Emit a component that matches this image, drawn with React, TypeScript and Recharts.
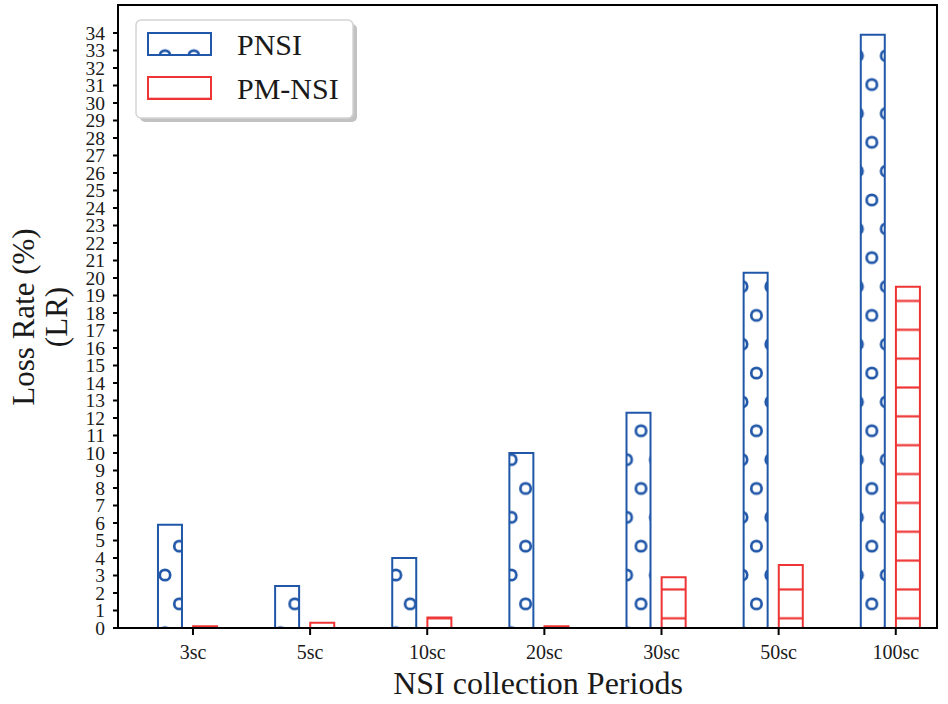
import React from "react";
import {
  ComposedChart,
  Bar,
  XAxis,
  YAxis,
  Legend,
  ReferenceArea,
} from "recharts";

const CATEGORIES = ["3sc", "5sc", "10sc", "20sc", "30sc", "50sc", "100sc"];
const PNSI = [5.9, 2.4, 4.0, 10.0, 12.3, 20.3, 33.9];
const PM_NSI = [0.1, 0.3, 0.6, 0.1, 2.9, 3.6, 19.5];
const Y_TICKS = [
  0, 1, 2, 3, 4, 5, 6, 7, 8, 9, 10, 11, 12, 13, 14, 15, 16, 17, 18, 19, 20,
  21, 22, 23, 24, 25, 26, 27, 28, 29, 30, 31, 32, 33, 34,
];
const SERIES_NAMES = ["PNSI", "PM-NSI"];

const BLUE = "#2157A8";
const RED = "#EE3434";
const FONT = "'Liberation Serif', 'Times New Roman', serif";

// bar centre offsets from the tick, in category units (as in the source plot)
const PNSI_SHIFT = -0.2;
const PM_SHIFT = 0.1;
const X_MIN = -0.64;
const X_MAX = 6.352;
const Y_MAX = 35.6;

// hatch spacing in px
const S = 28.85;

const data = CATEGORIES.map((cat, i) => ({
  cat,
  xPnsi: i + PNSI_SHIFT,
  xPm: i + PM_SHIFT,
  pnsi: PNSI[i],
  pm: PM_NSI[i],
}));

const HatchDefs = ({ suffix }: { suffix: string }) => (
  <defs>
    <pattern
      id={`hatchO${suffix}`}
      patternUnits="userSpaceOnUse"
      x={165}
      y={575}
      width={S}
      height={2 * S}
    >
      {[
        [0, 0],
        [S, 0],
        [0, 2 * S],
        [S, 2 * S],
        [S / 2, S],
      ].map(([cx, cy], k) => (
        <circle
          key={k}
          cx={cx}
          cy={cy}
          r={5.2}
          fill="none"
          stroke={BLUE}
          strokeWidth={2.7}
        />
      ))}
    </pattern>
    <pattern
      id={`hatchH${suffix}`}
      patternUnits="userSpaceOnUse"
      x={0}
      y={618.3 - S / 2}
      width={S}
      height={S}
    >
      <line x1={0} y1={S / 2} x2={S} y2={S / 2} stroke={RED} strokeWidth={2.2} />
    </pattern>
  </defs>
);

const LegendBox = () => (
  <svg width={948} height={130} style={{ display: "block" }}>
    <HatchDefs suffix="L" />
    <rect x={140} y={24} width={217} height={98} rx={5} fill="#999" opacity={0.6} />
    <rect
      x={136}
      y={20}
      width={217}
      height={98}
      rx={5}
      fill="#fff"
      stroke="#d4d4d4"
      strokeWidth={1.5}
    />
    {SERIES_NAMES.map((name, i) => (
      <g key={name}>
        <rect
          x={148}
          y={33 + i * 44}
          width={63}
          height={22}
          fill={i === 0 ? "url(#hatchOL)" : "url(#hatchHL)"}
          stroke={i === 0 ? BLUE : RED}
          strokeWidth={2}
        />
        <text
          x={237}
          y={55 + i * 44}
          fontSize={30}
          fontFamily={FONT}
          fill="#1a1a1a"
        >
          {name}
        </text>
      </g>
    ))}
  </svg>
);

const YLabel = () => (
  <text
    transform="rotate(-90, 0, 0)"
    fontSize={31}
    fontFamily={FONT}
    fill="#1a1a1a"
    textAnchor="middle"
  >
    <tspan x={-317} y={34}>
      Loss Rate (%)
    </tspan>
    <tspan x={-317} y={67}>
      (LR)
    </tspan>
  </text>
);

const XLabel = () => (
  <text
    x={538}
    y={694}
    fontSize={32}
    fontFamily={FONT}
    fill="#1a1a1a"
    textAnchor="middle"
  >
    NSI collection Periods
  </text>
);

export default function App() {
  return (
    <div
      style={{
        position: "absolute",
        left: 0,
        top: 0,
        width: 948,
        height: 704,
        background: "#fff",
      }}
    >
      <ComposedChart
        width={948}
        height={704}
        data={data}
        margin={{ top: 5, right: 11, bottom: 36, left: 0 }}
      >
        <HatchDefs suffix="" />
        <XAxis
          xAxisId="a"
          type="number"
          dataKey="xPnsi"
          domain={[X_MIN, X_MAX]}
          allowDataOverflow
          ticks={[0, 1, 2, 3, 4, 5, 6]}
          interval={0}
          tickFormatter={(v: number) => CATEGORIES[Math.round(v)]}
          height={40}
          tickSize={7}
          tickMargin={10}
          axisLine={{ stroke: "#000", strokeWidth: 2 }}
          tickLine={{ stroke: "#000", strokeWidth: 2 }}
          tick={{ fill: "#1a1a1a", fontSize: 20, fontFamily: FONT }}
          label={{ content: () => <XLabel /> }}
        />
        <XAxis
          xAxisId="b"
          type="number"
          dataKey="xPm"
          domain={[X_MIN, X_MAX]}
          allowDataOverflow
          hide
        />
        <YAxis
          type="number"
          domain={[0, Y_MAX]}
          allowDataOverflow
          ticks={Y_TICKS}
          interval={0}
          width={118}
          tickSize={5}
          tickMargin={8}
          axisLine={{ stroke: "#000", strokeWidth: 2 }}
          tickLine={{ stroke: "#000", strokeWidth: 2 }}
          tick={{ fill: "#1a1a1a", fontSize: 19.5, fontFamily: FONT }}
          label={{ content: () => <YLabel /> }}
        />
        <Bar
          xAxisId="a"
          dataKey="pnsi"
          name="PNSI"
          barSize={24}
          fill="url(#hatchO)"
          stroke={BLUE}
          strokeWidth={2}
          isAnimationActive={false}
        />
        <Bar
          xAxisId="b"
          dataKey="pm"
          name="PM-NSI"
          barSize={24}
          fill="url(#hatchH)"
          stroke={RED}
          strokeWidth={2}
          isAnimationActive={false}
        />
        <ReferenceArea
          xAxisId="a"
          x1={X_MIN}
          x2={X_MAX}
          y1={0}
          y2={Y_MAX}
          fill="none"
          stroke="#000"
          strokeWidth={2}
        />
        <Legend
          layout="vertical"
          align="center"
          verticalAlign="middle"
          wrapperStyle={{
            position: "absolute",
            left: 0,
            top: 0,
            width: 948,
            height: 130,
            pointerEvents: "none",
          }}
          content={() => <LegendBox />}
        />
      </ComposedChart>
    </div>
  );
}
